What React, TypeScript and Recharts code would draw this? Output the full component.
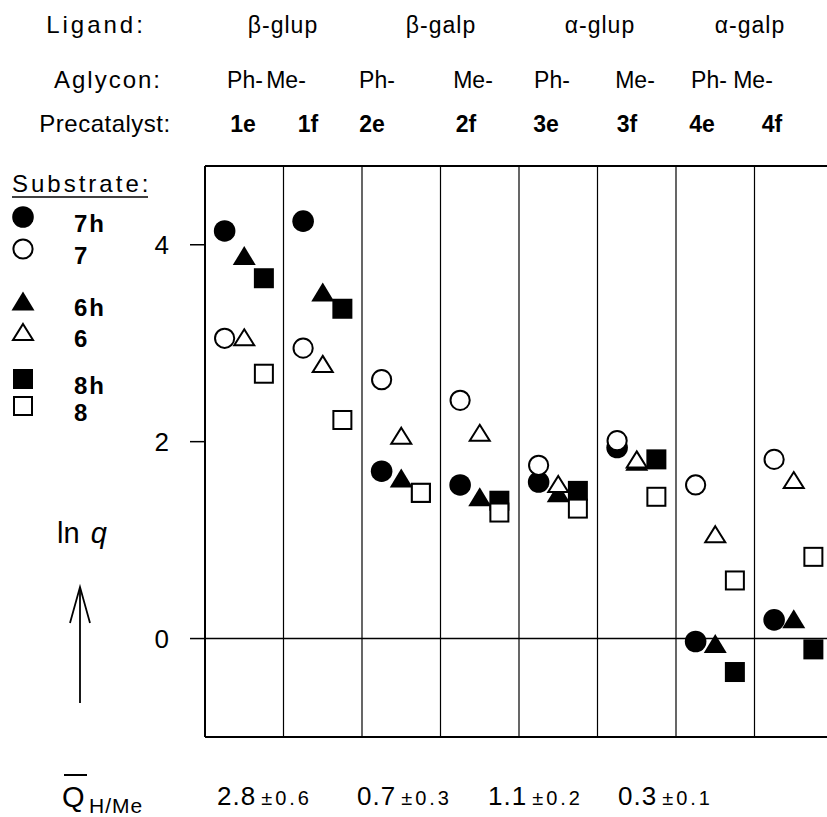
import React from 'react';
import { ScatterChart, Scatter, XAxis, YAxis, ReferenceLine } from 'recharts';

// column headers
const ligands = ['β-glup', 'β-galp', 'α-glup', 'α-galp'];
const aglycons = ['Ph-', 'Me-', 'Ph-', 'Me-', 'Ph-', 'Me-', 'Ph-', 'Me-'];
const precatalysts = ['1e', '1f', '2e', '2f', '3e', '3f', '4e', '4f'];
const yTicks = [0, 2, 4];
const boundaries = [0.5, 1.5, 2.5, 3.5, 4.5, 5.5, 6.5];

// ln q per precatalyst column, one array per substrate
const s7h = [4.14, 4.24, 1.7, 1.56, 1.59, 1.94, -0.03, 0.19];
const s7 = [3.05, 2.95, 2.63, 2.42, 1.76, 2.01, 1.56, 1.82];
const s6h = [3.89, 3.52, 1.63, 1.44, 1.48, 1.8, -0.05, 0.2];
const s6 = [3.06, 2.79, 2.06, 2.09, 1.57, 1.82, 1.06, 1.61];
const s8h = [3.66, 3.35, 1.48, 1.4, 1.5, 1.82, -0.34, -0.11];
const s8 = [2.69, 2.22, 1.48, 1.28, 1.32, 1.44, 0.59, 0.83];

// mean Q(H/Me) per ligand
const qMeans = ['2.8', '0.7', '1.1', '0.3'];
const qErrors = ['0.6', '0.3', '0.2', '0.1'];

const FONT = '"Liberation Sans", Arial, sans-serif';

type Kind = 'circle' | 'triangle' | 'square';

const toPoints = (vals: number[], offset: number) =>
  vals.map((y, i) => ({ x: i + offset, y }));

function Marker({ cx, cy, kind, filled }: { cx: number; cy: number; kind: Kind; filled: boolean }) {
  const fill = filled ? '#000' : '#fff';
  const sw = filled ? 0 : 2;
  if (kind === 'circle') {
    return <circle cx={cx} cy={cy} r={filled ? 10.8 : 9.6} fill={fill} stroke="#000" strokeWidth={sw} />;
  }
  if (kind === 'triangle') {
    const w = filled ? 23 : 20;
    const h = filled ? 19 : 16;
    const pts = `${cx},${cy - h / 2} ${cx + w / 2},${cy + h / 2} ${cx - w / 2},${cy + h / 2}`;
    return <polygon points={pts} fill={fill} stroke="#000" strokeWidth={sw} strokeLinejoin="miter" />;
  }
  const s = filled ? 20 : 18;
  return <rect x={cx - s / 2} y={cy - s / 2} width={s} height={s} fill={fill} stroke="#000" strokeWidth={sw} />;
}

const series = [
  { name: '7h', data: s7h, kind: 'circle' as Kind, filled: true, offset: -0.25 },
  { name: '6h', data: s6h, kind: 'triangle' as Kind, filled: true, offset: 0 },
  { name: '8h', data: s8h, kind: 'square' as Kind, filled: true, offset: 0.25 },
  { name: '7', data: s7, kind: 'circle' as Kind, filled: false, offset: -0.25 },
  { name: '6', data: s6, kind: 'triangle' as Kind, filled: false, offset: 0 },
  { name: '8', data: s8, kind: 'square' as Kind, filled: false, offset: 0.25 },
];

const legendRows = [
  { label: '7h', kind: 'circle' as Kind, filled: true, y: 217 },
  { label: '7', kind: 'circle' as Kind, filled: false, y: 249 },
  { label: '6h', kind: 'triangle' as Kind, filled: true, y: 301 },
  { label: '6', kind: 'triangle' as Kind, filled: false, y: 332 },
  { label: '8h', kind: 'square' as Kind, filled: true, y: 379 },
  { label: '8', kind: 'square' as Kind, filled: false, y: 406 },
];

const ligandX = [283, 441, 600, 750];
const aglyconX = [245, 286, 377, 473, 552, 635, 709, 753];
const precatX = [243, 308, 372, 466, 546, 627, 702, 772];
const qX = [217, 357, 488, 618];

const renderYTick = (props: any) => {
  const { x, y, payload } = props;
  return (
    <text
      key={payload.value}
      x={x}
      y={y + 9}
      textAnchor="end"
      style={{ fontSize: 26, fontFamily: FONT, letterSpacing: 1 }}
      fill="#000"
    >
      {payload.value}
    </text>
  );
};

function Annotations() {
  const t = { fontFamily: FONT, fill: '#000' };
  return (
    <svg width={827} height={817} style={{ position: 'absolute', left: 0, top: 0, pointerEvents: 'none' }}>
      <g {...t} fontSize={24}>
        <text x={96} y={33} textAnchor="middle" letterSpacing={3}>Ligand:</text>
        <text x={108} y={88} textAnchor="middle" letterSpacing={2}>Aglycon:</text>
        <text x={105} y={132} textAnchor="middle" letterSpacing={0.5}>Precatalyst:</text>
        {ligands.map((l, i) => (
          <text key={l} x={ligandX[i]} y={33} textAnchor="middle" fontSize={23} letterSpacing={1}>{l}</text>
        ))}
        {aglycons.map((a, i) => (
          <text key={i} x={aglyconX[i]} y={88} textAnchor="middle" fontSize={23}>{a}</text>
        ))}
        {precatalysts.map((p, i) => (
          <text key={p} x={precatX[i]} y={132} textAnchor="middle" fontSize={23} fontWeight="bold">{p}</text>
        ))}
      </g>

      {/* legend */}
      <g {...t} fontSize={24}>
        <text x={12} y={192} letterSpacing={3}>Substrate:</text>
        <line x1={12} x2={148} y1={197} y2={197} stroke="#000" strokeWidth={1.5} />
        {legendRows.map((r) => (
          <g key={r.label}>
            <Marker cx={23} cy={r.y} kind={r.kind} filled={r.filled} />
            <text x={74} y={r.y + 15} fontWeight="bold" letterSpacing={2}>{r.label}</text>
          </g>
        ))}
      </g>

      {/* ln q with arrow */}
      <text {...t} x={57} y={543} fontSize={29}>
        ln <tspan dx={3} fontStyle="italic">q</tspan>
      </text>
      <line x1={80} x2={80} y1={703} y2={588} stroke="#000" strokeWidth={1.8} />
      <polyline points="70,623 80,587 90,623" fill="none" stroke="#000" strokeWidth={1.8} />

      {/* Q bar H/Me */}
      <text {...t} x={62} y={807} fontSize={29}>Q</text>
      <line x1={64} x2={87} y1={775} y2={775} stroke="#000" strokeWidth={2} />
      <text {...t} x={89} y={813} fontSize={21} letterSpacing={1}>H/Me</text>
      {qMeans.map((m, i) => (
        <text key={m} {...t} x={qX[i]} y={805} fontSize={26} letterSpacing={1}>
          {m}
          <tspan fontSize={20} dx={5} letterSpacing={0}>±</tspan>
          <tspan fontSize={20} dx={3} letterSpacing={3}>{qErrors[i]}</tspan>
        </text>
      ))}
    </svg>
  );
}

export default function App() {
  return (
    <div style={{ position: 'fixed', left: 0, top: 0, width: 827, height: 817, overflow: 'hidden', background: '#fff' }}>
      <div style={{ position: 'absolute', left: 0, top: 0 }}>
        <ScatterChart width={860} height={817} margin={{ top: 166, right: 27, bottom: 80, left: 0 }}>
          <XAxis type="number" dataKey="x" domain={[-0.5, 7.5]} hide />
          <YAxis
            type="number"
            dataKey="y"
            domain={[-1, 4.8]}
            ticks={yTicks}
            width={205}
            tickSize={15}
            tickMargin={20}
            axisLine={{ stroke: '#000', strokeWidth: 2 }}
            tickLine={{ stroke: '#000', strokeWidth: 1.5 }}
            tick={renderYTick}
          />
          <ReferenceLine y={4.8} stroke="#000" strokeWidth={2} />
          <ReferenceLine y={-1} stroke="#000" strokeWidth={2} />
          <ReferenceLine y={0} stroke="#000" strokeWidth={1.5} />
          {boundaries.map((b) => (
            <ReferenceLine key={b} x={b} stroke="#000" strokeWidth={1.2} />
          ))}
          {series.map((s) => (
            <Scatter
              key={s.name}
              name={s.name}
              data={toPoints(s.data, s.offset)}
              isAnimationActive={false}
              shape={(p: any) => <Marker cx={p.cx} cy={p.cy} kind={s.kind} filled={s.filled} />}
            />
          ))}
        </ScatterChart>
      </div>
      <Annotations />
    </div>
  );
}
